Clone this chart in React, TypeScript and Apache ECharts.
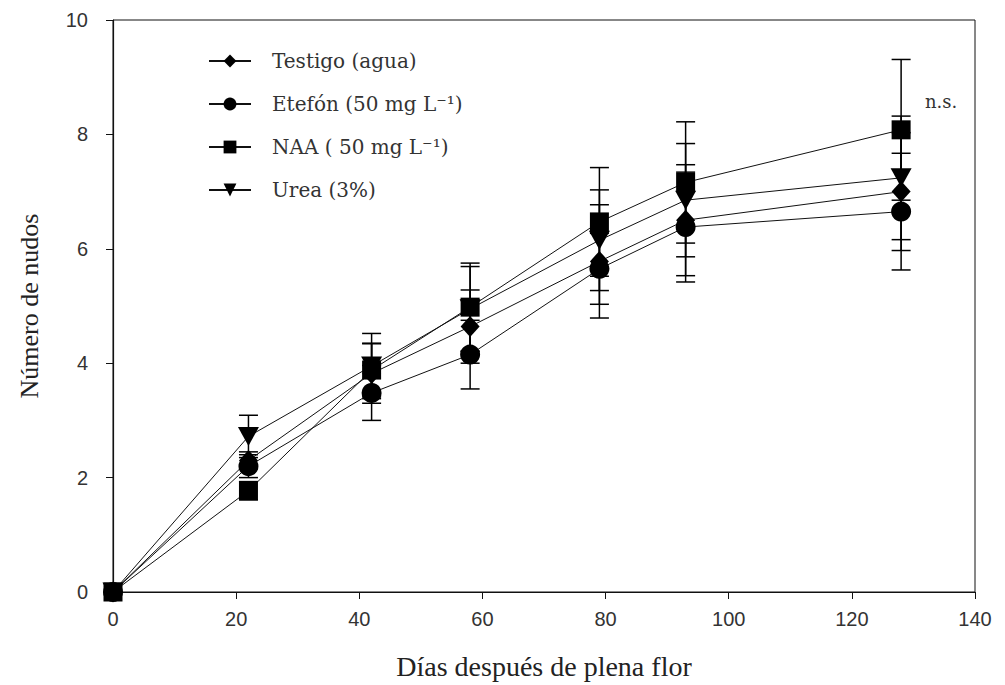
import React, { useEffect, useRef } from "react";
import * as echarts from "echarts";

const days = [0, 22, 42, 58, 79, 93, 128];
const seriesNames = ["Testigo (agua)", "Etefón (50 mg L⁻¹)", "NAA ( 50 mg L⁻¹)", "Urea (3%)"];
const testigo = [0, 2.3, 3.82, 4.64, 5.78, 6.5, 7.0];
const testigoSd = [0, 0.15, 0.52, 0.64, 0.99, 0.97, 1.03];
const etefon = [0, 2.2, 3.48, 4.15, 5.65, 6.38, 6.65];
const etefonSd = [0, 0.2, 0.48, 0.6, 0.62, 0.96, 1.02];
const naa = [0, 1.77, 3.88, 4.98, 6.47, 7.16, 8.08];
const naaSd = [0, 0.16, 0.47, 0.77, 0.95, 1.06, 1.23];
const urea = [0, 2.72, 3.95, 4.95, 6.15, 6.85, 7.24];
const ureaSd = [0, 0.37, 0.57, 0.74, 0.88, 0.99, 1.08];
const xTicks = { min: 0, max: 140, interval: 20 };
const yTicks = { min: 0, max: 10, interval: 2 };

const means = [testigo, etefon, naa, urea];
const sds = [testigoSd, etefonSd, naaSd, ureaSd];
const symbols = ["diamond", "circle", "rect", "triangle"];
const symbolSizes: any[] = [[19, 21], 20, 19, [21, 19]];
const rotates = [0, 0, 0, 180];

export default function App() {
  const ref = useRef<HTMLDivElement>(null);
  useEffect(() => {
    if (!ref.current) return;
    const chart = echarts.init(ref.current, null, { renderer: "svg" });
    const lineSeries = seriesNames.map((name, i) => ({
      name,
      type: "line",
      data: days.map((d, j) => [d, means[i][j]]),
      symbol: symbols[i],
      symbolSize: symbolSizes[i],
      symbolRotate: rotates[i],
      lineStyle: { color: "#111", width: 1 },
      itemStyle: { color: "#000" },
      z: 3,
    }));
    const errSeries = seriesNames.map((name, i) => ({
      name: name + " err",
      type: "custom",
      z: 2,
      data: days
        .map((d, j) => [d, means[i][j] - sds[i][j], means[i][j] + sds[i][j], sds[i][j]])
        .filter((r) => r[3] > 0),
      renderItem: (params: any, api: any) => {
        const x = api.value(0);
        const lo = api.coord([x, api.value(1)]);
        const hi = api.coord([x, api.value(2)]);
        const hw = 9.5;
        const st = { stroke: "#000", lineWidth: 1.5 };
        return {
          type: "group",
          children: [
            { type: "line", shape: { x1: lo[0], y1: lo[1], x2: hi[0], y2: hi[1] }, style: st },
            { type: "line", shape: { x1: lo[0] - hw, y1: lo[1], x2: lo[0] + hw, y2: lo[1] }, style: st },
            { type: "line", shape: { x1: hi[0] - hw, y1: hi[1], x2: hi[0] + hw, y2: hi[1] }, style: st },
          ],
        };
      },
    }));
    chart.setOption({
      animation: false,
      backgroundColor: "#fff",
      grid: { left: 113, top: 20, right: 30, bottom: 93, show: true, borderColor: "#111", borderWidth: 1 },
      legend: {
        data: seriesNames,
        orient: "vertical",
        left: 203,
        top: 46,
        itemWidth: 42,
        itemHeight: 16,
        itemGap: 23,
        lineStyle: { width: 2 },
        textStyle: { fontFamily: "DejaVu Serif", fontSize: 20, color: "#333", padding: [0, 0, 0, 16] },
      },
      xAxis: {
        type: "value",
        ...xTicks,
        name: "Días después de plena flor",
        nameLocation: "middle",
        nameGap: 60,
        nameTextStyle: { fontFamily: "Liberation Serif", fontSize: 28, color: "#222" },
        axisLine: { show: true, lineStyle: { color: "#111", width: 1.2 } },
        axisTick: { show: true, length: 7, lineStyle: { color: "#111" } },
        axisLabel: { fontFamily: "Liberation Sans", fontSize: 20, color: "#333", margin: 17 },
        splitLine: { show: false },
      },
      yAxis: {
        type: "value",
        ...yTicks,
        name: "Número de nudos",
        nameLocation: "middle",
        nameGap: 71,
        nameTextStyle: { fontFamily: "Liberation Serif", fontSize: 26, color: "#222" },
        axisLine: { show: true, lineStyle: { color: "#111", width: 1.2 } },
        axisTick: { show: true, length: 7, lineStyle: { color: "#111" } },
        axisLabel: { fontFamily: "Liberation Sans", fontSize: 20, color: "#333", margin: 25 },
        splitLine: { show: false },
      },
      graphic: [
        {
          type: "text",
          left: 925,
          top: 92,
          style: { text: "n.s.", font: "18px 'DejaVu Serif'", fill: "#333" },
        },
      ],
      series: [...errSeries, ...lineSeries],
    });
    return () => chart.dispose();
  }, []);
  return (
    <div
      ref={ref}
      style={{ position: "fixed", left: 0, top: 0, width: 1005, height: 685, background: "#fff" }}
    />
  );
}
